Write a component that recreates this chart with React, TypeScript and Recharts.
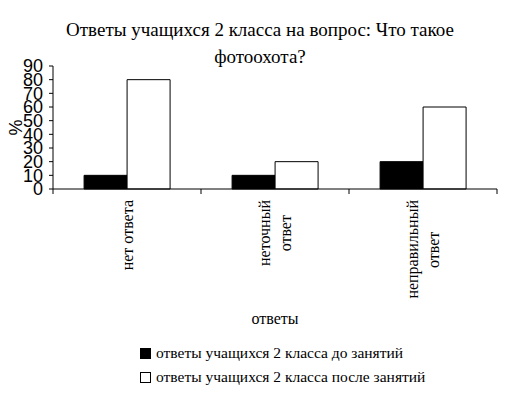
import React from "react";
import { BarChart, Bar, XAxis, YAxis, Legend } from "recharts";

// категории ответов и значения (%)
const categories = ["нет ответа", "неточный\nответ", "неправильный\nответ"];
const beforeValues = [10, 10, 20];
const afterValues = [80, 20, 60];
const yTicks = [0, 10, 20, 30, 40, 50, 60, 70, 80, 90];

const seriesNames = [
  "ответы учащихся 2 класса до занятий",
  "ответы учащихся 2 класса после занятий",
];
const titleLines = ["Ответы учащихся 2 класса на вопрос: Что такое", "фотоохота?"];

const data = categories.map((c, i) => ({
  name: c,
  before: beforeValues[i],
  after: afterValues[i],
}));

const serif = "Liberation Serif";
const sans = "Liberation Sans";

const W = 511;
const H = 397;
const margin = { top: 66, right: 14, bottom: 0, left: 13 };
const yAxisWidth = 40;
const plotWidth = W - margin.left - margin.right - yAxisWidth;

const CategoryTick = (props: any) => {
  const { x, y, payload, index } = props;
  const bw = plotWidth / categories.length;
  const lines: string[] = String(payload.value).split("\n");
  const maxLen = Math.max(...lines.map((l) => l.length));
  const top = y + 11;
  const cy = top + (maxLen * 8.3) / 2;
  return (
    <g>
      <line x1={x - bw / 2} x2={x - bw / 2} y1={y} y2={y + 5} stroke="#000" />
      {index === categories.length - 1 && (
        <line x1={x + bw / 2} x2={x + bw / 2} y1={y} y2={y + 5} stroke="#000" />
      )}
      {lines.map((l, i) => {
        const lx = x + (i - (lines.length - 1) / 2) * 22;
        // самая длинная строка прижата к оси, остальные по центру
        const longest = l.length === maxLen;
        const ly = longest ? top : cy;
        return (
          <text
            key={i}
            x={lx}
            y={ly}
            textAnchor={longest ? "end" : "middle"}
            dominantBaseline="central"
            transform={`rotate(-90, ${lx}, ${ly})`}
            style={{ fontFamily: serif, fontSize: 16 }}
            fill="#000"
          >
            {l}
          </text>
        );
      })}
    </g>
  );
};

const LegendBox = () => (
  <div style={{ fontFamily: serif, fontSize: 15.5, color: "#000" }}>
    {seriesNames.map((n, i) => (
      <div key={n} style={{ display: "flex", alignItems: "center", height: 24, whiteSpace: "nowrap" }}>
        <span
          style={{
            display: "inline-block",
            width: 9,
            height: 9,
            border: "1px solid #000",
            background: i === 0 ? "#000" : "#fff",
            marginRight: 5,
          }}
        />
        {n}
      </div>
    ))}
  </div>
);

const PercentLabel = (props: any) => {
  const vb = props.viewBox || {};
  const cx = 16;
  const cy = (vb.y ?? 66) + (vb.height ?? 123) / 2;
  return (
    <text
      x={cx}
      y={cy}
      textAnchor="middle"
      dominantBaseline="central"
      transform={`rotate(-90, ${cx}, ${cy})`}
      style={{ fontFamily: sans, fontSize: 18 }}
      fill="#000"
    >
      %
    </text>
  );
};

export default function App() {
  return (
    <div style={{ position: "absolute", left: 0, top: 0, width: W, height: H, background: "#fff" }}>
      <div
        style={{
          position: "absolute",
          left: 0,
          top: 16,
          width: 520,
          textAlign: "center",
          fontFamily: serif,
          fontSize: 19,
          lineHeight: "27px",
          color: "#000",
        }}
      >
        {titleLines.map((t) => (
          <div key={t}>{t}</div>
        ))}
      </div>
      <BarChart width={W} height={H} data={data} margin={margin} barGap={0} barCategoryGap="21%">
        <XAxis
          dataKey="name"
          height={H - 189}
          tickSize={0}
          tickMargin={0}
          interval={0}
          stroke="#000"
          tick={<CategoryTick />}
          label={{
            value: "ответы",
            position: "insideBottom",
            offset: 73,
            fill: "#000",
            style: { fontFamily: serif, fontSize: 16 },
          }}
        />
        <YAxis
          width={yAxisWidth}
          domain={[0, 90]}
          ticks={yTicks}
          interval={0}
          tickSize={4}
          tickMargin={6}
          stroke="#000"
          tick={{ fill: "#000", style: { fontFamily: sans, fontSize: 18 } }}
          label={<PercentLabel />}
        />
        <Legend
          layout="vertical"
          align="center"
          verticalAlign="middle"
          wrapperStyle={{ left: 140, top: 341, width: 340 }}
          content={<LegendBox />}
        />
        <Bar dataKey="before" name={seriesNames[0]} fill="#000" stroke="#000" isAnimationActive={false} />
        <Bar dataKey="after" name={seriesNames[1]} fill="#fff" stroke="#000" isAnimationActive={false} />
      </BarChart>
    </div>
  );
}
